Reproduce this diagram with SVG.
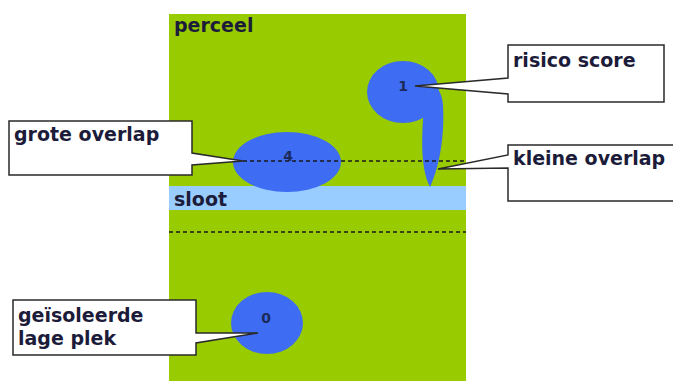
<svg xmlns="http://www.w3.org/2000/svg" width="673" height="381" viewBox="0 0 673 381">
<style>
.lbl{font-family:"DejaVu Sans",Verdana,sans-serif;font-weight:bold;font-size:19px;fill:#1c1c3a}
.num{font-family:"DejaVu Sans",sans-serif;font-weight:bold;font-size:14px;fill:#1c2a5a;text-anchor:middle}
.blob{fill:#3e6cf2}
.call{fill:#ffffff;stroke:#2a2a2a;stroke-width:1.5;stroke-linejoin:miter}
.dash{stroke:#1a1a1a;stroke-width:1.3;stroke-dasharray:4 3;fill:none}
</style>
<rect width="673" height="381" fill="#ffffff"/>
<g id="perceel">
<rect x="169" y="14" width="297" height="367" fill="#99cc00"/>
<text class="lbl" x="174" y="32">perceel</text>
</g>
<g id="sloot">
<rect x="169" y="186" width="297" height="24" fill="#99ccff"/>
<text class="lbl" x="174" y="206">sloot</text>
</g>
<g id="blob4">
<ellipse class="blob" cx="287" cy="162" rx="54" ry="30"/>
<text class="num" x="288" y="161">4</text>
</g>
<g id="blob1">
<ellipse class="blob" cx="403" cy="92" rx="36" ry="31"/>
<path class="blob" d="M425 92 C422 130 419 165 430 187 C438 170 445 140 443 105 C442 90 435 84 428 86 Z"/>
<text class="num" x="403" y="91">1</text>
</g>
<g id="blob0">
<ellipse class="blob" cx="267" cy="323" rx="36" ry="31"/>
<text class="num" x="266" y="323">0</text>
</g>
<g id="connectors">
<line class="dash" x1="243" y1="161" x2="466" y2="161"/>
<line class="dash" x1="169" y1="232" x2="466" y2="232"/>
</g>
<g id="grote-overlap">
<path class="call" d="M9 121 H192 V153 L243 161 L192 165 V175 H9 Z"/>
<text class="lbl" x="14" y="141">grote overlap</text>
</g>
<g id="geisoleerde">
<path class="call" d="M13 300 H196 V333 L258 333 L196 343 V355 H13 Z"/>
<text class="lbl" x="18" y="322">geïsoleerde</text>
<text class="lbl" x="18" y="345">lage plek</text>
</g>
<g id="risico-score">
<path class="call" d="M508 45 H664 V102 H508 V94 L415 86 L508 78 Z"/>
<text class="lbl" x="513" y="67">risico score</text>
</g>
<g id="kleine-overlap">
<path class="call" d="M508 145 H680 V201 H508 V168 L438 169 L508 155 Z"/>
<text class="lbl" x="513" y="165">kleine overlap</text>
</g>
</svg>
